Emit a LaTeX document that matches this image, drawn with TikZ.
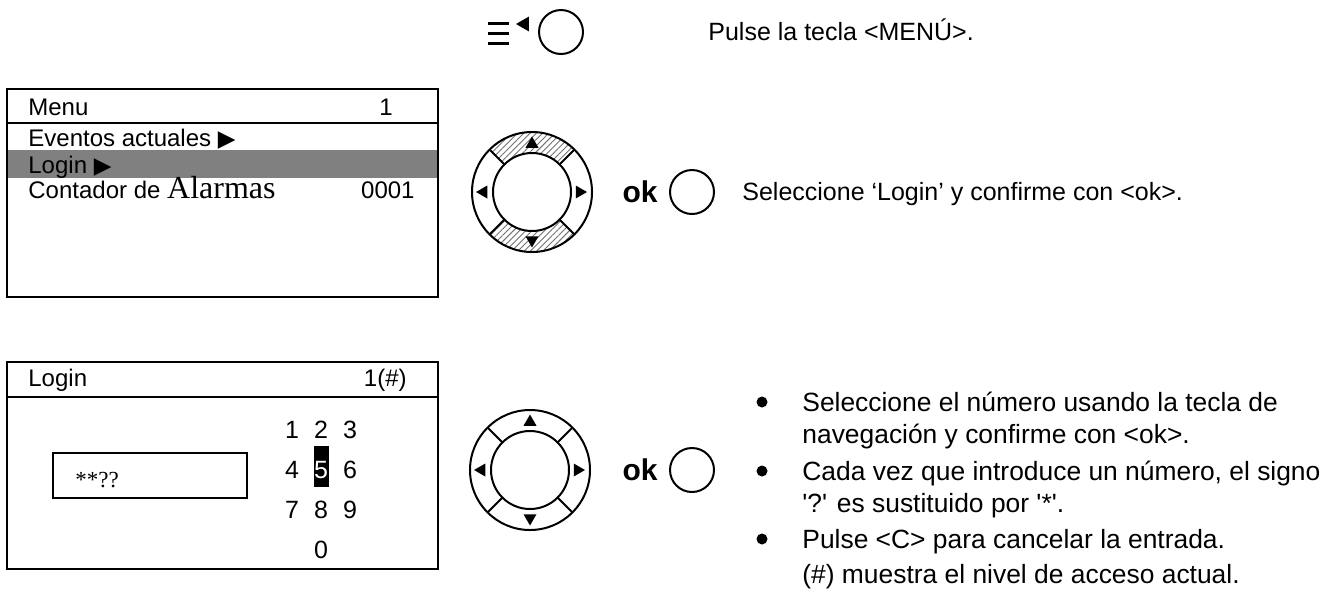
\documentclass[tikz,border=0pt]{standalone}
\usepackage{fontspec}
\setmainfont{Liberation Sans}
\newfontfamily\serifft{Liberation Serif}
\newfontfamily\symft{DejaVu Sans}
\usepackage{tikz}
\usetikzlibrary{shapes.geometric,patterns.meta,calc,positioning}
\definecolor{selgray}{HTML}{808080}
\definecolor{hatchgray}{HTML}{707070}
\newcommand{\rtri}{{\symft\fontsize{11.5}{12}\selectfont ▶}}

\begin{document}
\begin{tikzpicture}[x=0.5pt, y=-0.5pt,
  lcd/.style={anchor=base west, inner sep=0pt, font=\fontsize{12}{14}\selectfont},
  lcdr/.style={anchor=base east, inner sep=0pt, font=\fontsize{12}{14}\selectfont},
  info/.style={anchor=base west, inner sep=0pt, font=\fontsize{12.5}{15}\selectfont},
  item/.style={anchor=base west, inner sep=0pt, font=\fontsize{13.2}{15}\selectfont},
  digit/.style={anchor=base, inner sep=0pt, font=\fontsize{12.5}{15}\selectfont},
  screen/.style={draw, line width=1pt, minimum width=215.5pt, inner sep=0pt},
  key/.style={draw, circle, line width=1pt, minimum size=22pt, inner sep=0pt},
  ring/.style={draw, circle, line width=1pt, inner sep=0pt},
  tip/.style={fill, regular polygon, regular polygon sides=3, inner sep=0pt, minimum size=7.5pt},
  dot/.style={fill, circle, inner sep=0pt, minimum size=5.5pt},
  oklbl/.style={inner sep=0pt, font=\bfseries\fontsize{15}{18}\selectfont},
  hatch/.style={pattern={Lines[angle=45,distance=2.2pt,line width=0.45pt]}, pattern color=hatchgray}
]
\useasboundingbox (0,0) rectangle (1338,601);

% menu key
\foreach \y in {23,33,43} \draw[line width=1.5pt] (488,\y) -- (509,\y);
\node[tip, minimum size=8.5pt, shape border rotate=90] (menutip) at (524.5,24) {};
\node[key] (menukey) at (561,32) {};
\node[info] (pulse) at (708,40) {Pulse la tecla <MENÚ>.};

% menu screen
\fill[selgray] (7,150) rectangle (438,178);
\node[screen, minimum height=104pt] (menuscr) at (222.5,193) {};
\draw[line width=1pt] (7,123) -- (438,123);
\node[lcd] (mtitle) at (28,115) {Menu};
\node[lcdr] (mlevel) at (393,115) {1};
\node[lcd] (mevents) at (28,146) {Eventos actuales \rtri};
\node[lcd] (mlogin) at (28,173) {Login \rtri};
\node[lcd] (mcount) at (28,198) {Contador de {\serifft\fontsize{16}{18}\selectfont Alarmas}};
\node[lcdr] (mcountval) at (415,198) {0001};

% login screen
\node[screen, minimum height=103.5pt] (loginscr) at (222.5,465.5) {};
\draw[line width=1pt] (7,397) -- (438,397);
\node[lcd] (ltitle) at (28,386) {Login};
\node[lcdr] (llevel) at (407,386) {1(\#)};
\node[draw, line width=0.8pt, minimum width=97pt, minimum height=22.5pt, inner sep=0pt] (pinbox) at (150,475.5) {};
\node[anchor=base west, inner sep=0pt, font=\serifft\fontsize{11.5}{14}\selectfont] (pin) at (75,487) {**??};
\fill (314,446) rectangle (329,487);
\foreach \d/\cx/\by/\col in {1/292/438.5/black, 2/321/438.5/black, 3/350/438.5/black,
                             4/292/478.5/black, 5/321/478.5/white, 6/350/478.5/black,
                             7/292/518.5/black, 8/321/518.5/black, 9/350/518.5/black,
                             0/321/558.5/black}
  \node[digit, text=\col] (d\d) at (\cx,\by) {\d};

% navigation pads
\path[hatch] ($(532,192)+(45:30pt)$) arc[start angle=45, end angle=135, radius=30pt]
  -- ($(532,192)+(135:19.5pt)$) arc[start angle=135, end angle=45, radius=19.5pt] -- cycle;
\path[hatch] ($(532,192)+(225:30pt)$) arc[start angle=225, end angle=315, radius=30pt]
  -- ($(532,192)+(315:19.5pt)$) arc[start angle=315, end angle=225, radius=19.5pt] -- cycle;
\foreach \n/\cx/\cy in {1/532/192, 2/530/470} {
  \node[ring, minimum size=60pt] (pad\n) at (\cx,\cy) {};
  \node[ring, minimum size=39pt] (padin\n) at (\cx,\cy) {};
  \foreach \a in {45,135,225,315}
    \draw[line width=1pt] ($(pad\n.center)+(\a:19.5pt)$) -- ($(pad\n.center)+(\a:30pt)$);
  \node[tip] (up\n) at (\cx,\cy-48) {};
  \node[tip, shape border rotate=180] (down\n) at (\cx,\cy+48) {};
  \node[tip, shape border rotate=90] (left\n) at (\cx-48.5,\cy) {};
  \node[tip, shape border rotate=270] (right\n) at (\cx+47.5,\cy) {};
  \node[oklbl] (ok\n) at (640,\cy) {ok};
  \node[key] (okkey\n) at (692,\cy) {};
}

% instructions
\node[info] (select) at (742,200) {Seleccione ‘Login’ y confirme con <ok>.};
\foreach \y in {402,471,539} \node[dot] at (762,\y) {};
\node[item] (num1) at (802,411) {Seleccione el número usando la tecla de};
\node[item] (num2) at (802,443) {navegación y confirme con <ok>.};
\node[item] (each1) at (802,480) {Cada vez que introduce un número, el signo};
\node[item] (each2) at (802,512) {\textquotesingle?\textquotesingle{} es sustituido por \textquotesingle*\textquotesingle.};
\node[item] (cancel) at (802,548) {Pulse <C> para cancelar la entrada.};
\node[item] (level) at (802,583) {(\#) muestra el nivel de acceso actual.};
\end{tikzpicture}
\end{document}
